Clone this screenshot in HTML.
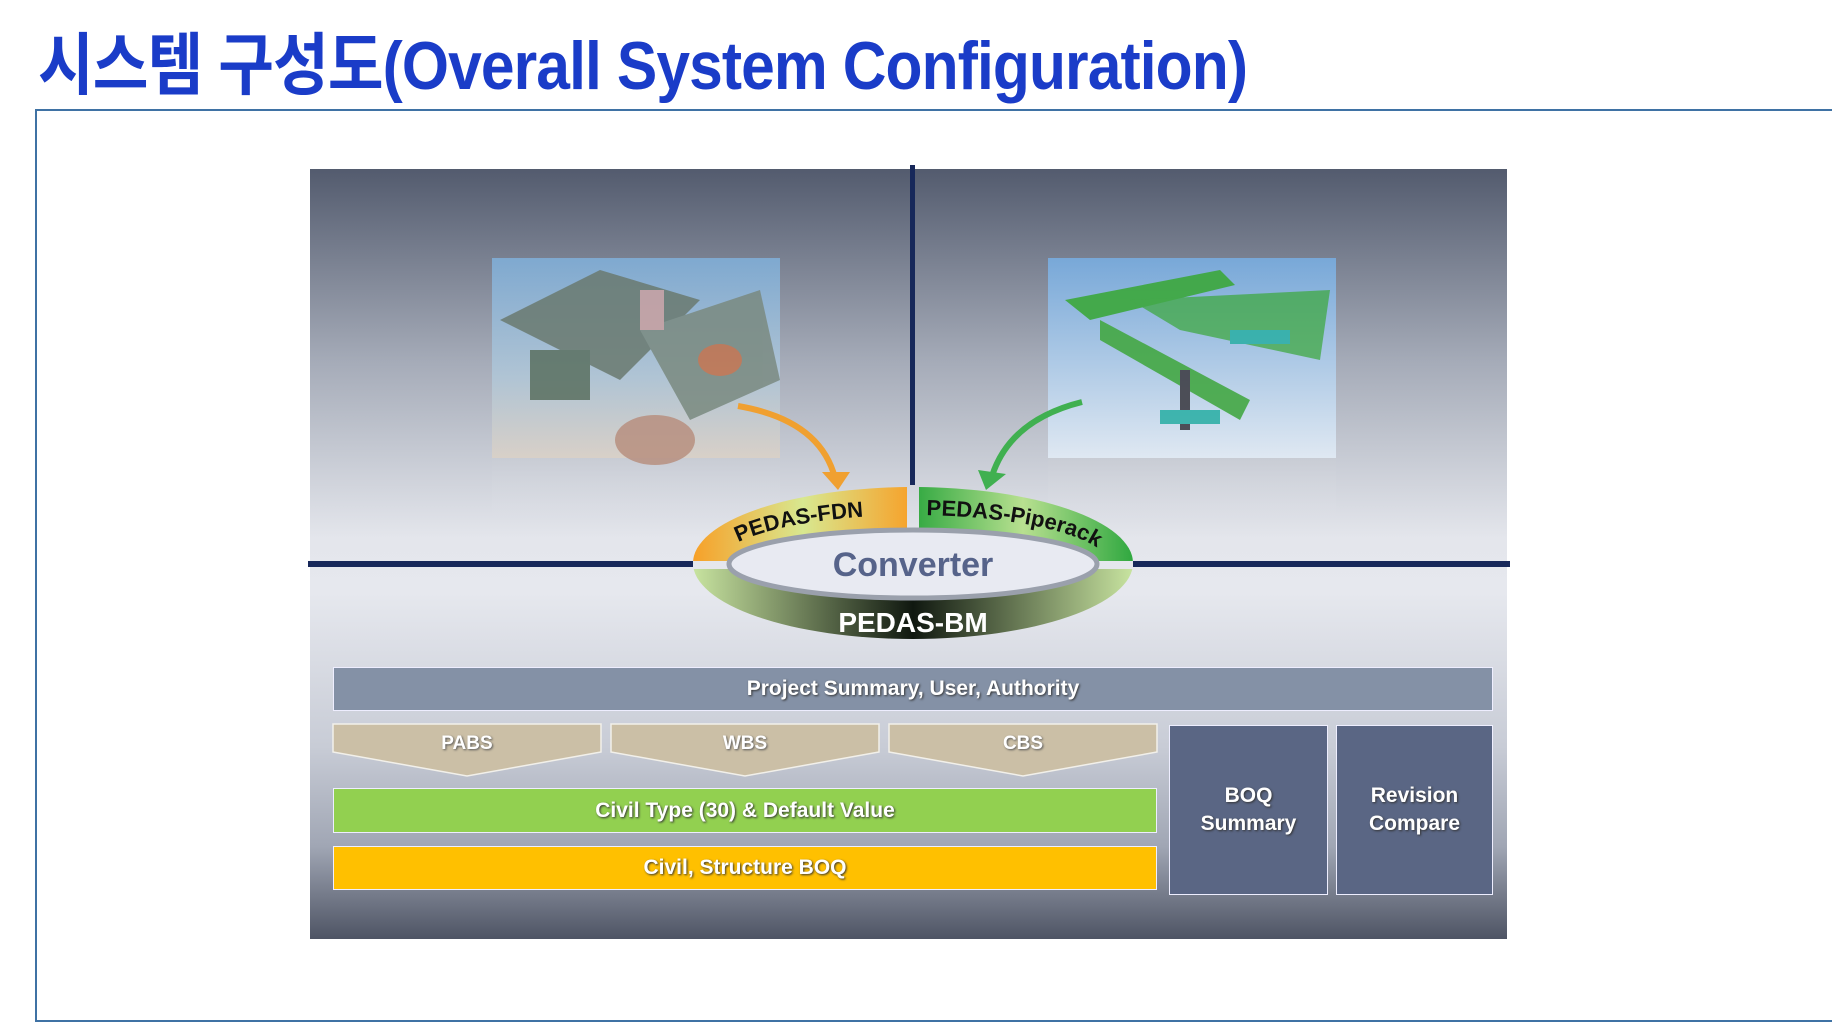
<!DOCTYPE html>
<html><head><meta charset="utf-8"><style>
*{margin:0;padding:0;box-sizing:border-box}
body{width:1832px;height:1024px;background:#fff;position:relative;overflow:hidden;font-family:"Liberation Sans","Noto Sans CJK KR",sans-serif}
.title{position:absolute;left:38px;top:10px;font-size:68px;font-weight:bold;color:#1a3cc8;white-space:nowrap;transform-origin:0 0;transform:scaleX(0.89);letter-spacing:-1px;font-family:"Liberation Sans Narrow","Liberation Sans","Noto Sans CJK KR",sans-serif}
.frame{position:absolute;left:35px;top:109px;width:1810px;height:913px;border:2px solid #3f72a4}
.panel{position:absolute;left:310px;top:169px;width:1197px;height:770px;background:linear-gradient(#535b6e 0%,#a5abb8 25%,#e4e6ec 48%,#e6e8ee 55%,#c8ccd6 75%,#a0a6b4 88%,#4e5464 100%)}
.box{position:absolute;color:#fff;font-weight:bold;display:flex;align-items:center;justify-content:center;text-align:center;font-size:21px;text-shadow:1px 1px 2px #333;border:1px solid #eef}
</style></head><body>
<div class="title">시스템 구성도(Overall System Configuration)</div>
<div class="frame"></div>
<div class="panel"></div>
<svg style="position:absolute;left:0;top:0" width="1832" height="1024">
<defs>
<linearGradient id="sky1" x1="0" y1="0" x2="0" y2="1"><stop offset="0" stop-color="#7fa9d0"/><stop offset="0.6" stop-color="#b0c4d4"/><stop offset="1" stop-color="#d8d0c8"/></linearGradient>
<linearGradient id="sky2" x1="0" y1="0" x2="0" y2="1"><stop offset="0" stop-color="#78a8d8"/><stop offset="1" stop-color="#dfe8f2"/></linearGradient>
<linearGradient id="refl" x1="0" y1="0" x2="0" y2="1"><stop offset="0" stop-color="#c8ccd4" stop-opacity="0.8"/><stop offset="1" stop-color="#e4e6ec" stop-opacity="0"/></linearGradient>
<linearGradient id="og" x1="0" y1="0" x2="1" y2="0"><stop offset="0" stop-color="#f7a028"/><stop offset="0.25" stop-color="#d8e890"/><stop offset="0.5" stop-color="#f7a028"/></linearGradient>
<linearGradient id="gg" x1="0" y1="0" x2="1" y2="0"><stop offset="0.5" stop-color="#30a840"/><stop offset="0.75" stop-color="#b8e090"/><stop offset="1" stop-color="#30a840"/></linearGradient>
<linearGradient id="bm" x1="0" y1="0" x2="1" y2="0"><stop offset="0" stop-color="#c8e4a0"/><stop offset="0.5" stop-color="#101810"/><stop offset="1" stop-color="#c8e4a0"/></linearGradient>
<clipPath id="tl"><rect x="690" y="480" width="217" height="81"/></clipPath>
<clipPath id="tr"><rect x="919" y="480" width="217" height="81"/></clipPath>
<clipPath id="bot"><rect x="690" y="569" width="446" height="80"/></clipPath>
</defs>
<rect x="910" y="165" width="5" height="320" fill="#17285a"/>
<rect x="308" y="561" width="385" height="6" fill="#17285a"/>
<rect x="1133" y="561" width="377" height="6" fill="#17285a"/>
<rect x="492" y="458" width="288" height="60" fill="url(#refl)"/>
<rect x="1048" y="458" width="288" height="60" fill="url(#refl)"/>
<rect x="492" y="258" width="288" height="200" fill="url(#sky1)"/>
<g opacity="0.85">
<polygon points="500,320 600,270 700,300 620,380" fill="#6a7a70"/>
<polygon points="640,330 760,290 780,380 690,420" fill="#7a8a80"/>
<ellipse cx="720" cy="360" rx="22" ry="16" fill="#c0704a"/>
<ellipse cx="655" cy="440" rx="40" ry="25" fill="#b89080"/>
<rect x="530" y="350" width="60" height="50" fill="#5a7060"/>
<rect x="640" y="290" width="24" height="40" fill="#c8a0a0"/>
</g>
<rect x="1048" y="258" width="288" height="200" fill="url(#sky2)"/>
<g opacity="0.9">
<polygon points="1065,300 1220,270 1235,285 1090,320" fill="#3ca83c"/>
<polygon points="1130,300 1330,290 1320,360 1180,330" fill="#3ca83c" opacity="0.8"/>
<polygon points="1100,320 1250,400 1240,420 1100,340" fill="#44a844"/>
<rect x="1180" y="370" width="10" height="60" fill="#404048"/>
<rect x="1160" y="410" width="60" height="14" fill="#30b0a8"/>
<rect x="1230" y="330" width="60" height="14" fill="#30b0a8"/>
</g>
<path d="M738,406 Q820,420 835,478" stroke="#f0a030" stroke-width="6" fill="none"/>
<polygon points="822,472 850,472 838,490" fill="#f0a030"/>
<path d="M1082,402 Q1010,420 992,476" stroke="#40b050" stroke-width="6" fill="none"/>
<polygon points="978,470 1006,474 986,490" fill="#40b050"/>
<ellipse cx="913" cy="563" rx="220" ry="76" fill="url(#og)" clip-path="url(#tl)"/>
<ellipse cx="913" cy="563" rx="220" ry="76" fill="url(#gg)" clip-path="url(#tr)"/>
<ellipse cx="913" cy="563" rx="220" ry="76" fill="url(#bm)" clip-path="url(#bot)"/>
<ellipse cx="913" cy="564" rx="184" ry="34" fill="#e8eaf2" stroke="#9aa0ac" stroke-width="5"/>
<path id="arc" d="M717,565 A196,50 0 0 1 1109,565" fill="none"/>
<text font-family="Liberation Sans" font-weight="bold" font-size="22" fill="#111"><textPath href="#arc" startOffset="23%" text-anchor="middle">PEDAS-FDN</textPath></text>
<text font-family="Liberation Sans" font-weight="bold" font-size="22" fill="#111"><textPath href="#arc" startOffset="74%" text-anchor="middle">PEDAS-Piperack</textPath></text>
<text x="913" y="576" text-anchor="middle" font-family="Liberation Sans" font-weight="bold" font-size="34" fill="#56638a">Converter</text>
<text x="913" y="632" text-anchor="middle" font-family="Liberation Sans" font-weight="bold" font-size="28" fill="#fff">PEDAS-BM</text>
<g fill="#cbbfa6" stroke="#f2f0ea" stroke-width="1.5">
<polygon points="333,724 601,724 601,752 467,776 333,752"/>
<polygon points="611,724 879,724 879,752 745,776 611,752"/>
<polygon points="889,724 1157,724 1157,752 1023,776 889,752"/>
</g>
<g font-family="Liberation Sans" font-weight="bold" font-size="19" fill="#fff" text-anchor="middle" style="text-shadow:1px 1px 2px #555">
<text x="467" y="749">PABS</text><text x="745" y="749">WBS</text><text x="1023" y="749">CBS</text>
</g>
</svg>
<div class="box" style="left:333px;top:667px;width:1160px;height:44px;background:#8491a6">Project Summary, User, Authority</div>
<div class="box" style="left:333px;top:788px;width:824px;height:45px;background:#92d050">Civil Type (30) &amp; Default Value</div>
<div class="box" style="left:333px;top:846px;width:824px;height:44px;background:#ffc000">Civil, Structure BOQ</div>
<div class="box" style="left:1169px;top:725px;width:159px;height:170px;background:#5a6684;line-height:28px">BOQ<br>Summary</div>
<div class="box" style="left:1336px;top:725px;width:157px;height:170px;background:#5a6684;line-height:28px">Revision<br>Compare</div>
</body></html>
